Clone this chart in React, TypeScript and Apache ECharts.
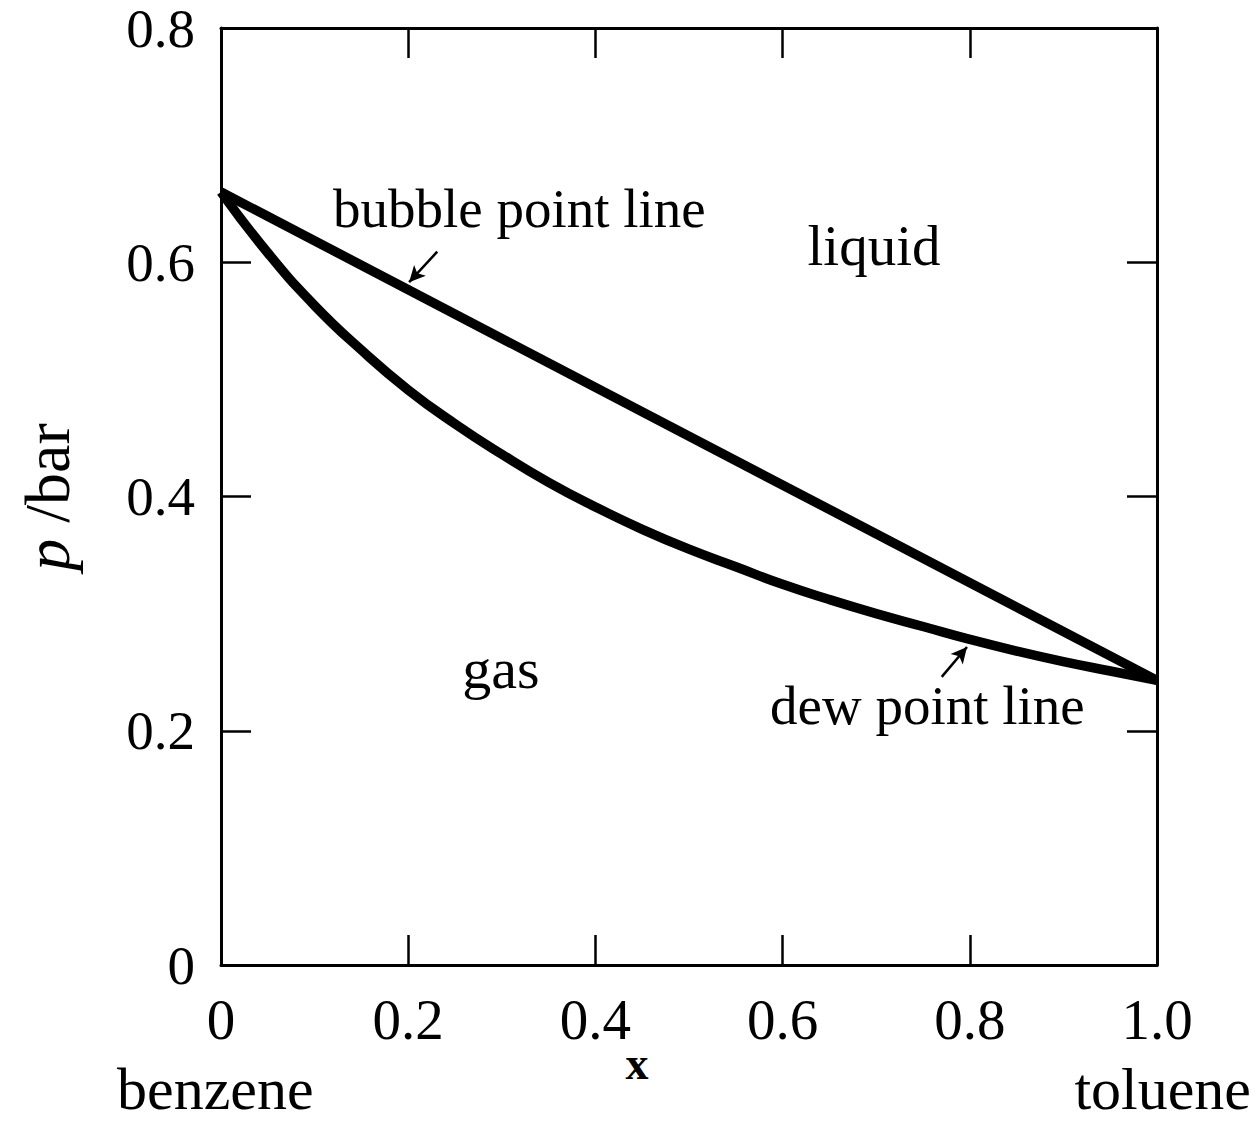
import React, { useEffect, useRef } from "react";
import * as echarts from "echarts";

// Dew point line
const dewX = [0, 0.05, 0.1, 0.15, 0.2, 0.25, 0.3, 0.35, 0.4, 0.45, 0.5, 0.55, 0.6, 0.65, 0.7, 0.75, 0.8, 0.85, 0.9, 0.95, 1.0];
const dewP = [0.66, 0.608, 0.563, 0.525, 0.491, 0.462, 0.436, 0.412, 0.391, 0.372, 0.355, 0.34, 0.325, 0.312, 0.3, 0.289, 0.278, 0.268, 0.259, 0.251, 0.243];
// Bubble point line (straight)
const bubbleX = [0, 1.0];
const bubbleP = [0.66, 0.243];

// Annotation arrows (data coordinates: [x, p] start -> end)
const bubbleArrow = [[0.231, 0.609], [0.201, 0.583]];
const dewArrow = [[0.770, 0.246], [0.797, 0.2715]];

const FONT = "'Liberation Serif', 'Times New Roman', serif";

export default function App() {
  const ref = useRef<HTMLDivElement>(null);
  useEffect(() => {
    if (!ref.current) return;
    const chart = echarts.init(ref.current, undefined, { renderer: "svg" });
    const axisLine = { show: true, onZero: false, lineStyle: { color: "#000", width: 3 } };
    const tick = { show: true, inside: true, length: 30, lineStyle: { color: "#000", width: 2.5 } };
    const xLabelStyle = { color: "#000", fontFamily: FONT, fontSize: 57, lineHeight: 46 };
    const yLabelStyle = { color: "#000", fontFamily: FONT, fontSize: 55, lineHeight: 44 };
    const fmtX = (v: number) => (v === 0 ? "0" : v === 1 ? "1.0" : v.toFixed(1));
    const fmtY = (v: number) => (v === 0 ? "0" : v.toFixed(1));
    const arrowLine = (pts: number[][]) => ({
      silent: true,
      symbol: ["none", "arrow"],
      symbolSize: [12, 16],
      label: { show: false },
      lineStyle: { color: "#000", width: 2.5, type: "solid" },
      data: [[{ coord: pts[0] }, { coord: pts[1] }]],
    });
    const txt = (x: number, y: number, text: string, size: number, align: string, bold = false) => ({
      type: "text", x, y,
      style: {
        text, font: `${bold ? "bold " : ""}${size}px ${FONT}`, lineHeight: Math.round(size * 0.8),
        fill: "#000", textAlign: align, textVerticalAlign: "middle",
      },
    });
    chart.setOption({
      animation: false,
      backgroundColor: "#fff",
      grid: { left: 221, right: 100, top: 28, bottom: 159 },
      xAxis: [
        {
          type: "value", min: 0, max: 1, interval: 0.2, position: "bottom",
          axisLine, axisTick: tick, splitLine: { show: false },
          axisLabel: { ...xLabelStyle, margin: 31, formatter: fmtX },
        },
        {
          type: "value", min: 0, max: 1, interval: 0.2, position: "top",
          axisLine, axisTick: tick, splitLine: { show: false }, axisLabel: { show: false },
        },
      ],
      yAxis: [
        {
          type: "value", min: 0, max: 0.8, interval: 0.2, position: "left",
          axisLine, axisTick: tick, splitLine: { show: false },
          axisLabel: { ...yLabelStyle, margin: 26, formatter: fmtY },
        },
        {
          type: "value", min: 0, max: 0.8, interval: 0.2, position: "right",
          axisLine, axisTick: tick, splitLine: { show: false }, axisLabel: { show: false },
        },
      ],
      series: [
        {
          name: "bubble point line", type: "line", showSymbol: false,
          data: bubbleX.map((x, i) => [x, bubbleP[i]]),
          lineStyle: { color: "#000", width: 9.5 },
          markLine: arrowLine(bubbleArrow),
        },
        {
          name: "dew point line", type: "line", showSymbol: false, smooth: true,
          data: dewX.map((x, i) => [x, dewP[i]]),
          lineStyle: { color: "#000", width: 9.5 },
          markLine: arrowLine(dewArrow),
        },
      ],
      graphic: [
        txt(333, 208, "bubble point line", 55, "left"),
        txt(874, 245, "liquid", 57, "center"),
        txt(501, 668, "gas", 58, "center"),
        txt(770, 705, "dew point line", 55, "left"),
        txt(117, 1089, "benzene", 60, "left"),
        txt(1251, 1089, "toluene", 60, "right"),
        txt(637, 1063, "x", 46, "center", true),
        {
          type: "text", x: 47, y: 497, rotation: Math.PI / 2,
          style: {
            text: "{i|p}{n| /bar}", textAlign: "center", textVerticalAlign: "middle", fill: "#000",
            rich: {
              i: { fontFamily: FONT, fontSize: 64, fontStyle: "italic", fill: "#000" },
              n: { fontFamily: FONT, fontSize: 64, fill: "#000" },
            },
          },
        },
      ],
    });
    return () => chart.dispose();
  }, []);
  return <div ref={ref} style={{ position: "absolute", left: 0, top: 0, width: 1257, height: 1124 }} />;
}
